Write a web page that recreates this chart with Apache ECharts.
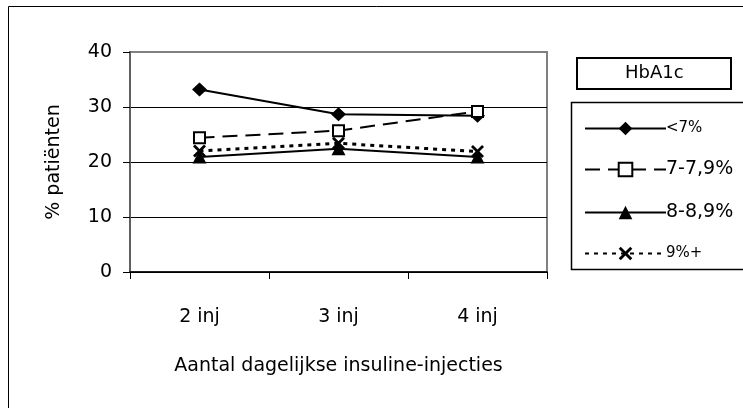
<!DOCTYPE html>
<html>
<head>
<meta charset="utf-8">
<script src="https://cdn.jsdelivr.net/npm/echarts@6/dist/echarts.min.js"></script>
<style>
  html, body { margin: 0; padding: 0; background: #fff; }
  #chart { width: 743px; height: 408px; }
</style>
</head>
<body>
<div id="chart"></div>
<script>
// Percentage of patients per HbA1c band, by number of daily insulin injections
const categories = ['2 inj', '3 inj', '4 inj'];
const seriesNames = ['<7%', '7-7,9%', '8-8,9%', '9%+'];
const below7 = [33.2, 28.7, 28.4];
const from7to79 = [24.4, 25.7, 29.2];
const from8to89 = [20.9, 22.4, 20.9];
const from9up = [22.0, 23.4, 21.9];
const yMin = 0, yMax = 40, yStep = 10;

const FONT = 'DejaVu Sans';
const crossPath = 'path://M0,1.5L1.5,0L5,3.5L8.5,0L10,1.5L6.5,5L10,8.5L8.5,10L5,6.5L1.5,10L0,8.5L3.5,5Z';

// legend labels: the "<" and "+" entries are set in a smaller size
const legendSmall = { '<7%': true, '9%+': true };

const chart = echarts.init(document.getElementById('chart'), null, { renderer: 'canvas' });

chart.setOption({
  animation: false,
  backgroundColor: '#fff',
  textStyle: { fontFamily: FONT, color: '#000' },
  graphic: [
    { type: 'polyline', z: 0, shape: { points: [[8.5, 420], [8.5, 6.5], [760, 6.5]] },
      style: { stroke: '#000', lineWidth: 1, fill: null } },
    { type: 'rect', z: 0, shape: { x: 571.5, y: 102.5, width: 300, height: 167 },
      style: { stroke: '#000', lineWidth: 1.5, fill: null } }
  ],
  title: {
    text: 'HbA1c',
    left: 577, top: 58,
    padding: [5, 48],
    borderColor: '#000', borderWidth: 2,
    textStyle: { fontFamily: FONT, fontSize: 18, fontWeight: 'normal', color: '#000', lineHeight: 21 }
  },
  legend: {
    orient: 'vertical',
    left: 579, top: 116,
    itemWidth: 81, itemHeight: 17,
    itemGap: 24,
    data: seriesNames,
    lineStyle: { width: 2 },
    formatter: name => legendSmall[name] ? '{s|' + name + '}' : '{b|' + name + '}',
    textStyle: {
      fontFamily: FONT, color: '#000', padding: [0, 0, 0, -5],
      rich: {
        s: { fontFamily: FONT, fontSize: 15, lineHeight: 21, color: '#000' },
        b: { fontFamily: FONT, fontSize: 19, lineHeight: 21, color: '#000' }
      }
    }
  },
  grid: {
    left: 130, right: 196, top: 52, bottom: 136,
    show: true, borderColor: '#808080', borderWidth: 2, backgroundColor: '#fff'
  },
  xAxis: {
    type: 'category',
    data: categories,
    boundaryGap: true,
    name: 'Aantal dagelijkse insuline-injecties',
    nameLocation: 'middle',
    nameGap: 85,
    nameTextStyle: { fontFamily: FONT, fontSize: 19, color: '#000' },
    axisLine: { lineStyle: { color: '#000', width: 1.5 } },
    axisTick: { show: true, length: 7, interval: 0, lineStyle: { color: '#000' } },
    axisLabel: { margin: 36, fontFamily: FONT, fontSize: 19, color: '#000' }
  },
  yAxis: {
    type: 'value',
    min: yMin, max: yMax, interval: yStep,
    name: '% patiënten',
    nameLocation: 'middle',
    nameGap: 66,
    nameTextStyle: { fontFamily: FONT, fontSize: 19, color: '#000' },
    axisLine: { show: true, lineStyle: { color: '#606060', width: 2 } },
    axisTick: { show: true, length: 7, lineStyle: { color: '#000' } },
    axisLabel: { margin: 18, fontFamily: FONT, fontSize: 19, color: '#000' },
    splitLine: { show: true, lineStyle: { color: ['#000', '#000', '#000', '#000', '#808080'], width: 1 } }
  },
  series: [
    {
      name: seriesNames[0], type: 'line', data: below7,
      symbol: 'diamond', symbolSize: [15, 14],
      lineStyle: { color: '#000', width: 2, type: 'solid' },
      itemStyle: { color: '#000' }
    },
    {
      name: seriesNames[1], type: 'line', data: from7to79,
      symbol: 'rect', symbolSize: [11, 11],
      lineStyle: { color: '#000', width: 2, type: [15, 8] },
      itemStyle: { color: '#fff', borderColor: '#000', borderWidth: 2 }
    },
    {
      name: seriesNames[2], type: 'line', data: from8to89,
      symbol: 'triangle', symbolSize: [14, 13],
      lineStyle: { color: '#000', width: 2, type: 'solid' },
      itemStyle: { color: '#000' }
    },
    {
      name: seriesNames[3], type: 'line', data: from9up,
      symbol: crossPath, symbolSize: [13, 13],
      lineStyle: { color: '#000', width: 3, type: [4, 5] },
      itemStyle: { color: '#000' }
    }
  ]
});
</script>
</body>
</html>
